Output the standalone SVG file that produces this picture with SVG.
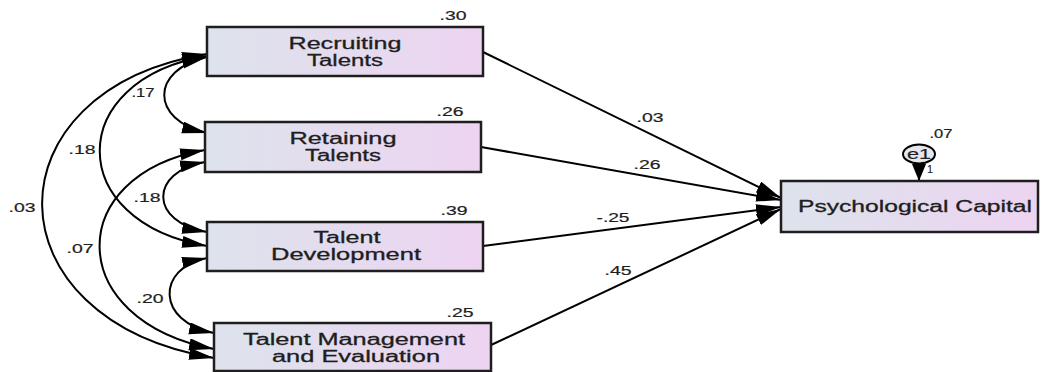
<svg xmlns="http://www.w3.org/2000/svg" width="1044" height="372" viewBox="0 0 1044 372">
<style>
.box{stroke:#1e1e1e;stroke-width:2.5;fill:url(#g)}
.t{font-family:"Liberation Sans",Arial,sans-serif;font-size:16px;fill:#1e1e1e;text-anchor:middle;stroke:#1e1e1e;stroke-width:0.3}
.n{font-family:"Liberation Sans",Arial,sans-serif;font-size:13px;fill:#1e1e1e;text-anchor:middle;stroke:#1e1e1e;stroke-width:0.2}
.c{fill:none;stroke:#000;stroke-width:2}
</style>
<defs>
<linearGradient id="g" x1="0" y1="0" x2="1" y2="0">
<stop offset="0" stop-color="#dde3ec"/>
<stop offset="1" stop-color="#edd4f1"/>
</linearGradient>
<marker id="a" markerUnits="userSpaceOnUse" markerWidth="28" markerHeight="14" refX="25" refY="6" orient="auto-start-reverse" viewBox="0 0 28 14">
<path d="M0,0 L25,6 L0,12 Z" fill="#000"/>
</marker>
<marker id="v" markerUnits="userSpaceOnUse" markerWidth="20" markerHeight="16" refX="17" refY="7" orient="auto" viewBox="0 0 20 16">
<path d="M0,0 L17,7 L0,14 Z" fill="#000"/>
</marker>
</defs>
<g id="connectors">
<path class="c" d="M207,57 C150,70 150,120 207,133" marker-start="url(#a)" marker-end="url(#a)"/>
<path class="c" d="M207,56 C64,80 64,222 207,246" marker-start="url(#a)" marker-end="url(#a)"/>
<path class="c" d="M207,54 C-14,90 -14,320 214,358" marker-start="url(#a)" marker-end="url(#a)"/>
<path class="c" d="M205,150 C63,175 63,320 214,349" marker-start="url(#a)" marker-end="url(#a)"/>
<path class="c" d="M205,162 C149,172 149,222 207,232" marker-start="url(#a)" marker-end="url(#a)"/>
<path class="c" d="M207,258 C156,268 156,322 214,333" marker-start="url(#a)" marker-end="url(#a)"/>
<line class="c" x1="483" y1="52" x2="781" y2="198" marker-end="url(#a)"/>
<line class="c" x1="481" y1="147" x2="781" y2="200" marker-end="url(#a)"/>
<line class="c" x1="483" y1="246" x2="781" y2="207" marker-end="url(#a)"/>
<line class="c" x1="491" y1="345" x2="781" y2="209" marker-end="url(#a)"/>
<line class="c" x1="919" y1="163" x2="919" y2="181" marker-end="url(#v)"/>
<text class="n" x="143" y="97" textLength="23" lengthAdjust="spacingAndGlyphs">.17</text>
<text class="n" x="82" y="154" textLength="27" lengthAdjust="spacingAndGlyphs">.18</text>
<text class="n" x="22" y="212" textLength="27" lengthAdjust="spacingAndGlyphs">.03</text>
<text class="n" x="147" y="202" textLength="27" lengthAdjust="spacingAndGlyphs">.18</text>
<text class="n" x="80" y="253" textLength="27" lengthAdjust="spacingAndGlyphs">.07</text>
<text class="n" x="150" y="303" textLength="27" lengthAdjust="spacingAndGlyphs">.20</text>
<text class="n" x="650" y="122" textLength="27" lengthAdjust="spacingAndGlyphs">.03</text>
<text class="n" x="647" y="169" textLength="27" lengthAdjust="spacingAndGlyphs">.26</text>
<text class="n" x="613" y="222" textLength="33" lengthAdjust="spacingAndGlyphs">-.25</text>
<text class="n" x="618" y="275" textLength="27" lengthAdjust="spacingAndGlyphs">.45</text>
</g>
<g id="recruiting">
<rect class="box" x="207" y="27" width="276" height="49"/>
<text class="t" x="345" y="49" textLength="113" lengthAdjust="spacingAndGlyphs">Recruiting</text>
<text class="t" x="345" y="66" textLength="76" lengthAdjust="spacingAndGlyphs">Talents</text>
<text class="n" x="453" y="20" textLength="27" lengthAdjust="spacingAndGlyphs">.30</text>
</g>
<g id="retaining">
<rect class="box" x="205" y="122" width="276" height="50"/>
<text class="t" x="343" y="144" textLength="107" lengthAdjust="spacingAndGlyphs">Retaining</text>
<text class="t" x="343" y="161" textLength="76" lengthAdjust="spacingAndGlyphs">Talents</text>
<text class="n" x="450" y="116" textLength="27" lengthAdjust="spacingAndGlyphs">.26</text>
</g>
<g id="development">
<rect class="box" x="207" y="222" width="276" height="49"/>
<text class="t" x="347" y="243" textLength="67" lengthAdjust="spacingAndGlyphs">Talent</text>
<text class="t" x="346" y="260" textLength="150" lengthAdjust="spacingAndGlyphs">Development</text>
<text class="n" x="454" y="215" textLength="27" lengthAdjust="spacingAndGlyphs">.39</text>
</g>
<g id="management">
<rect class="box" x="214" y="323" width="277" height="48"/>
<text class="t" x="354" y="345" textLength="222" lengthAdjust="spacingAndGlyphs">Talent Management</text>
<text class="t" x="356" y="362" textLength="168" lengthAdjust="spacingAndGlyphs">and Evaluation</text>
<text class="n" x="460" y="317" textLength="27" lengthAdjust="spacingAndGlyphs">.25</text>
</g>
<g id="psycap">
<rect class="box" x="781" y="181" width="257" height="51"/>
<text class="t" x="915" y="212" textLength="234" lengthAdjust="spacingAndGlyphs">Psychological Capital</text>
</g>
<g id="e1">
<ellipse cx="919" cy="154" rx="16" ry="9.5" fill="#e6e6ec" stroke="#000" stroke-width="2"/>
<text class="n" x="919" y="159" textLength="24" lengthAdjust="spacingAndGlyphs" style="font-size:14px">e1</text>
<text class="n" x="930" y="173" style="font-size:10px">1</text>
<text class="n" x="941" y="138" textLength="23" lengthAdjust="spacingAndGlyphs">.07</text>
</g>
</svg>
